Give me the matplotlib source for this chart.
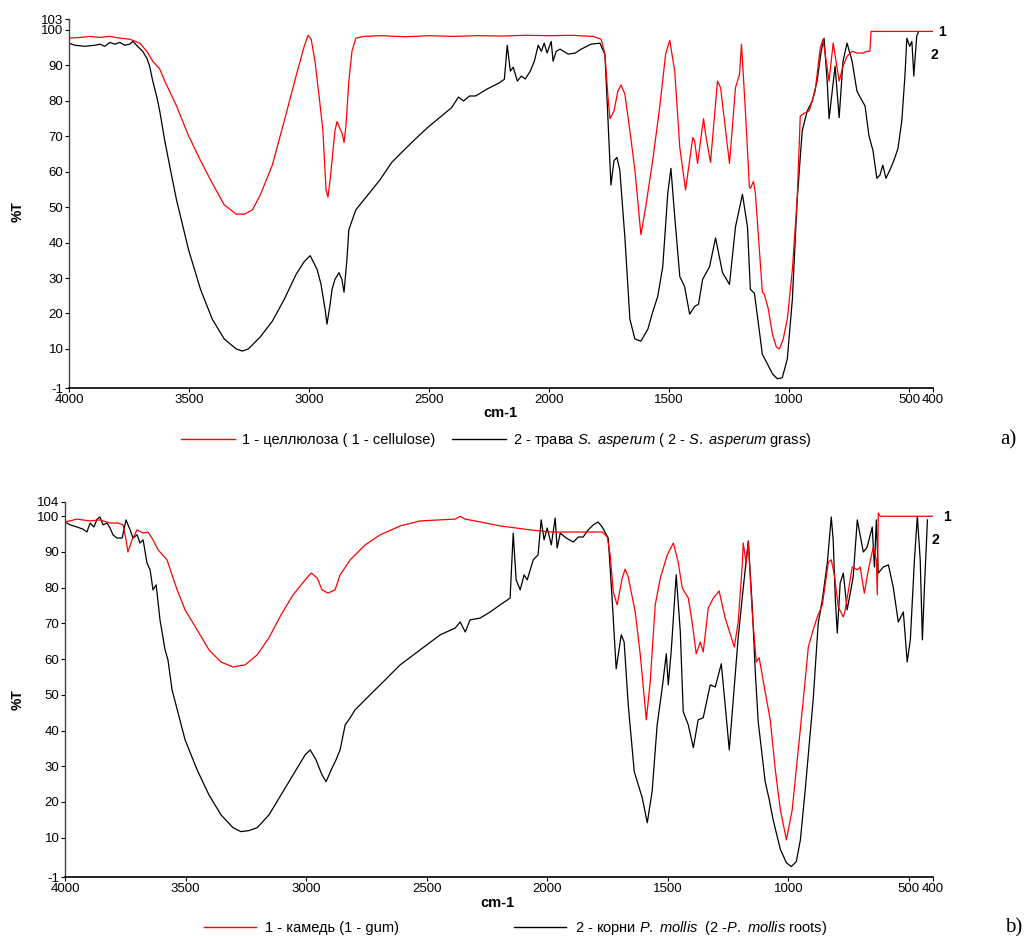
import matplotlib.pyplot as plt
from matplotlib.lines import Line2D

plt.rcParams['font.family'] = ['Liberation Sans', 'DejaVu Sans']
plt.rcParams['mathtext.fontset'] = 'custom'
plt.rcParams['mathtext.it'] = 'Liberation Sans:italic'
plt.rcParams['mathtext.rm'] = 'Liberation Sans'
plt.rcParams['axes.unicode_minus'] = False

# a) cellulose (1) and S. asperum grass (2), wavenumber cm-1 / %T
cellulose_wn = [4000, 3954, 3913, 3871, 3830, 3788, 3747, 3705, 3676, 3651, 3622, 3601,
                3552, 3502, 3452, 3403, 3353, 3303, 3269, 3236, 3203, 3153, 3103, 3054,
                3020, 3004, 2991, 2975, 2958, 2942, 2929, 2921, 2912, 2904, 2892, 2883,
                2871, 2863, 2854, 2846, 2834, 2821, 2805, 2771, 2700, 2600, 2500, 2400,
                2300, 2200, 2100, 2000, 1900, 1850,
                1817, 1783, 1767, 1754, 1746, 1729, 1713, 1700, 1684, 1663, 1642, 1617,
                1597, 1568, 1539, 1514, 1497, 1476, 1455, 1431, 1401, 1393, 1381, 1356,
                1348, 1327, 1298, 1285, 1248, 1223, 1206, 1198, 1181, 1165, 1161, 1148,
                1140, 1111, 1103, 1086, 1069, 1053, 1040, 1024, 1007, 986, 966, 953,
                932, 916, 891, 870, 858, 845, 833, 816, 804, 791, 775, 758,
                737, 717, 692, 675, 663, 658, 400]
cellulose_t = [97.6, 97.8, 98.1, 97.8, 98.1, 97.6, 97.3, 96.2, 93.9, 91.1, 88.9, 85.5,
               78.5, 70.1, 63.1, 56.7, 50.6, 48.0, 48.0, 49.2, 53.4, 61.8, 74.3, 86.9,
               95.3, 98.4, 97.3, 91.1, 81.3, 71.5, 54.8, 52.8, 57.6, 63.1, 71.5, 74.1,
               72.1, 71.0, 68.2, 72.9, 85.5, 93.9, 97.6, 98.1, 98.3, 98.0, 98.3, 98.1,
               98.3, 98.2, 98.4, 98.3, 98.4, 98.2,
               98.1, 97.3, 93.1, 80.8, 74.9, 77.1, 82.7, 84.4, 81.9, 71.5, 60.4, 42.2,
               50.0, 63.1, 78.0, 93.1, 97.0, 88.3, 66.8, 54.8, 69.6, 68.5, 62.3, 74.9,
               70.7, 62.6, 85.5, 83.6, 62.3, 83.6, 87.5, 95.9, 76.3, 55.6, 55.3, 57.2,
               53.9, 26.0, 25.5, 21.2, 14.2, 10.6, 10.0, 12.8, 18.4, 32.4, 52.0, 75.7,
               76.6, 77.1, 82.7, 94.8, 97.3, 91.1, 85.5, 96.2, 91.1, 85.5, 89.7, 92.5,
               93.9, 93.4, 93.4, 93.9, 93.9, 99.5, 99.5]

grass_wn = [4000, 3975, 3934, 3892, 3871, 3851, 3830, 3809, 3788, 3768, 3747, 3734,
            3714, 3693, 3676, 3664, 3651, 3635, 3622, 3601, 3577, 3552, 3502, 3452,
            3403, 3353, 3303, 3278, 3253, 3203, 3153, 3103, 3054, 3020, 2995, 2966,
            2950, 2933, 2925, 2912, 2904, 2892, 2875, 2863, 2854, 2842, 2834, 2805,
            2755, 2705, 2655, 2605, 2555, 2506, 2456, 2406, 2377, 2356, 2331, 2306,
            2257, 2207, 2186, 2174, 2161, 2149, 2132, 2115, 2099, 2078, 2061, 2045,
            2032, 2020, 2008, 1991, 1983, 1970, 1954, 1920, 1891, 1866, 1825,
            1788, 1767, 1754, 1742, 1729, 1717, 1705, 1684, 1663, 1642, 1617, 1588,
            1568, 1547, 1526, 1505, 1492, 1476, 1455, 1435, 1414, 1393, 1377, 1360,
            1331, 1306, 1277, 1248, 1223, 1194, 1173, 1161, 1144, 1111, 1090, 1069,
            1049, 1028, 1007, 986, 966, 945,
            924, 903, 883, 866, 854, 841, 833, 820, 808, 791, 775, 758,
            737, 717, 700, 683, 667, 650, 634, 621, 609, 596, 580, 563,
            546, 530, 517, 509, 497, 488, 480, 468, 460]
grass_t = [96.2, 95.6, 95.3, 95.6, 95.9, 95.3, 96.4, 95.9, 96.4, 95.6, 95.9, 96.7,
           95.3, 93.9, 92.0, 89.7, 85.5, 81.3, 77.1, 68.7, 60.4, 52.0, 38.0, 26.8,
           18.4, 12.8, 10.0, 9.4, 10.0, 13.4, 17.8, 24.0, 31.0, 34.6, 36.3, 32.4,
           28.2, 21.2, 17.0, 22.6, 26.8, 29.6, 31.5, 29.6, 26.0, 35.2, 43.6, 49.2,
           53.4, 57.6, 62.6, 66.0, 69.3, 72.4, 75.2, 78.0, 81.0, 79.9, 81.3, 81.3,
           83.3, 85.0, 86.0, 95.6, 88.3, 89.4, 85.5, 86.9, 86.1, 88.3, 91.1, 95.6,
           93.9, 96.2, 93.4, 96.7, 91.1, 93.9, 94.5, 93.1, 93.4, 94.5, 95.9,
           96.2, 93.0, 74.3, 56.2, 63.1, 64.0, 60.4, 41.6, 18.4, 12.8, 12.2, 15.6,
           20.4, 24.8, 33.2, 53.9, 60.9, 47.2, 30.4, 27.6, 19.8, 22.0, 22.6, 29.6,
           33.2, 41.3, 31.5, 28.2, 44.4, 53.6, 44.4, 26.8, 25.7, 8.5, 5.8, 3.0,
           1.6, 1.9, 7.2, 24.0, 52.0, 71.5,
           77.1, 79.9, 85.5, 93.9, 97.6, 85.5, 74.9, 82.7, 89.7, 75.2, 91.1, 96.2,
           91.1, 82.7, 80.5, 78.5, 70.1, 65.9, 58.1, 59.0, 61.8, 58.1, 60.4, 63.1,
           66.5, 74.3, 86.9, 97.6, 95.3, 96.7, 86.9, 98.1, 99.5]

# b) gum (1) and P. mollis roots (2)
gum_wn = [4000, 3950, 3896, 3855, 3813, 3780, 3759, 3747, 3739, 3722, 3701, 3676,
          3656, 3635, 3614, 3577, 3535, 3502, 3452, 3403, 3353, 3303, 3253, 3203,
          3154, 3104, 3054, 3004, 2979, 2954, 2934, 2909, 2880, 2859, 2817, 2755,
          2693, 2610, 2527, 2444, 2382, 2361, 2340, 2299, 2195, 2071, 1988, 1863,
          1801, 1772, 1751, 1739, 1726, 1710, 1689, 1677, 1664, 1635, 1614, 1589,
          1573, 1552, 1531, 1502, 1477, 1457, 1440, 1415, 1399, 1382, 1365, 1353,
          1332, 1311, 1287, 1262, 1224, 1208, 1191, 1187, 1175, 1166, 1150, 1133,
          1121, 1096, 1075, 1054, 1033, 1008, 984, 963, 938, 917, 897, 880,
          859, 834, 822, 809, 793, 772, 764, 735, 714, 702, 685, 668,
          648, 635, 631, 627, 619, 400]
gum_t = [98.4, 99.2, 98.7, 99.0, 98.1, 98.1, 97.6, 93.4, 90.0, 93.4, 96.2, 95.3,
         95.6, 93.4, 90.6, 87.8, 79.4, 73.8, 68.2, 62.6, 59.2, 57.8, 58.4, 61.2,
         66.0, 72.4, 78.0, 82.2, 84.1, 82.7, 79.4, 78.5, 79.4, 83.6, 87.8, 92.0,
         94.8, 97.3, 98.7, 99.0, 99.2, 100.0, 99.2, 98.7, 97.3, 96.2, 95.6, 95.6,
         95.6, 95.6, 94.2, 89.2, 78.8, 75.2, 82.7, 85.2, 83.0, 73.2, 61.2, 43.0,
         53.6, 75.2, 82.7, 89.2, 92.5, 87.2, 79.9, 77.1, 70.4, 61.5, 64.8, 62.0,
         74.3, 77.1, 79.1, 71.5, 63.4, 70.4, 86.4, 92.5, 86.9, 92.8, 73.2, 59.2,
         60.4, 50.8, 43.0, 29.0, 17.8, 9.4, 17.8, 31.8, 48.6, 63.4, 68.2, 71.8,
         75.2, 87.2, 87.8, 83.6, 74.6, 71.8, 73.8, 85.8, 85.0, 85.8, 78.5, 85.0,
         91.4, 87.8, 78.0, 100.9, 100.0, 100.0]

roots_wn = [4000, 3979, 3950, 3925, 3909, 3896, 3880, 3867, 3855, 3842, 3826, 3813,
            3801, 3784, 3763, 3747, 3730, 3718, 3701, 3689, 3676, 3660, 3647, 3635,
            3622, 3606, 3585, 3573, 3556, 3502, 3452, 3403, 3353, 3303, 3270, 3237,
            3203, 3154, 3104, 3054, 3004, 2983, 2959, 2934, 2917, 2896, 2876, 2859,
            2838, 2817, 2797, 2735, 2672, 2610, 2527, 2444, 2382, 2361, 2340, 2320,
            2278, 2237, 2195, 2154, 2141, 2129, 2112, 2096, 2083, 2058, 2038, 2025,
            2013, 2000, 1983, 1967, 1959, 1946, 1921, 1892, 1871, 1851, 1830, 1809,
            1789, 1772, 1747, 1731, 1714, 1693, 1681, 1664, 1639, 1606, 1585, 1565,
            1544, 1523, 1506, 1498, 1486, 1465, 1448, 1436, 1415, 1394, 1374, 1353,
            1324, 1303, 1278, 1262, 1245, 1228, 1208, 1187, 1166, 1158, 1150, 1137,
            1125, 1096, 1079, 1063, 1033, 1008, 988, 967, 950, 930, 897, 876,
            859, 838, 822, 814, 805, 797, 785, 772, 756, 731, 714, 689,
            673, 652, 643, 635, 627, 606, 585, 565, 544, 523, 507, 494,
            477, 465, 453, 444, 436, 423]
roots_t = [98.4, 97.6, 97.0, 96.4, 95.6, 98.1, 97.0, 99.2, 99.8, 97.6, 98.1, 96.7,
           94.8, 93.9, 93.9, 99.0, 96.2, 93.9, 94.8, 92.5, 93.4, 86.9, 85.0, 79.4,
           80.8, 71.0, 62.6, 59.8, 51.4, 37.4, 29.0, 22.0, 16.4, 12.8, 11.7, 12.0,
           12.8, 16.4, 22.0, 27.6, 33.2, 34.6, 31.8, 27.6, 25.7, 29.0, 31.8, 34.6,
           41.6, 43.6, 45.8, 50.0, 54.2, 58.4, 62.6, 66.8, 68.7, 70.4, 67.6, 71.0,
           71.5, 73.2, 75.2, 77.1, 95.3, 82.2, 79.4, 83.6, 82.2, 87.8, 89.2, 99.0,
           93.4, 96.7, 92.0, 99.5, 91.1, 95.3, 93.9, 92.8, 94.2, 94.2, 96.2, 97.6,
           98.4, 97.0, 93.9, 77.1, 57.3, 66.8, 64.8, 47.2, 28.5, 21.2, 14.2, 22.9,
           41.6, 52.0, 61.5, 52.8, 62.0, 83.6, 67.6, 45.3, 41.6, 35.2, 43.0, 43.6,
           52.8, 52.2, 58.7, 47.2, 34.6, 49.2, 66.0, 79.9, 93.1, 84.4, 75.2, 56.4,
           42.5, 25.7, 20.6, 15.0, 6.7, 3.0, 1.9, 3.3, 9.4, 23.4, 48.6, 70.1,
           76.6, 87.2, 99.8, 93.4, 76.6, 67.3, 81.3, 84.1, 73.8, 83.0, 99.0, 90.0,
           91.4, 97.0, 85.8, 99.0, 84.1, 85.8, 86.4, 80.2, 70.4, 73.2, 59.2, 65.4,
           87.8, 100.0, 87.8, 65.4, 79.4, 99.0]

x_ticks = [4000, 3500, 3000, 2500, 2000, 1500, 1000, 500, 400]
y_ticks_a = [-1, 10, 20, 30, 40, 50, 60, 70, 80, 90, 100, 103]
y_ticks_b = [-1, 10, 20, 30, 40, 50, 60, 70, 80, 90, 100, 104]

W, H = 1027, 936
fig = plt.figure(figsize=(W / 100, H / 100), dpi=100)


def draw_panel(rect, wn1, t1, wn2, t2, yticks):
    ax = fig.add_axes(rect)
    ax.plot(wn2, t2, color='black', lw=0.9)
    ax.plot(wn1, t1, color='#ff0000', lw=0.9)
    ax.set_xlim(4000, 400)
    ax.set_ylim(yticks[0], yticks[-1])
    ax.set_xticks(x_ticks)
    ax.set_yticks(yticks)
    ax.tick_params(direction='out', length=3, width=0.8, labelsize=9.5, pad=1)
    for side in ['top', 'right']:
        ax.spines[side].set_visible(False)
    ax.spines['left'].set_color('#444444')
    ax.spines['left'].set_linewidth(1.0)
    ax.spines['bottom'].set_linewidth(1.2)
    ax.patch.set_alpha(0)
    return ax


ax_a = draw_panel([69 / W, 1 - 388 / H, 864 / W, 369 / H],
                  cellulose_wn, cellulose_t, grass_wn, grass_t, y_ticks_a)
ax_b = draw_panel([65 / W, 1 - 877 / H, 868 / W, 375 / H],
                  gum_wn, gum_t, roots_wn, roots_t, y_ticks_b)

# axis titles
fig.text(18 / W, 1 - 212 / H, '%T', rotation=90, fontsize=10, fontweight='bold', ha='center', va='center')
fig.text(18 / W, 1 - 700 / H, '%T', rotation=90, fontsize=10, fontweight='bold', ha='center', va='center')
fig.text(500 / W, 1 - 413 / H, 'cm-1', fontsize=10.5, fontweight='bold', ha='center', va='center')
fig.text(497 / W, 1 - 903 / H, 'cm-1', fontsize=10.5, fontweight='bold', ha='center', va='center')

# curve numbers at the right end
fig.text(942 / W, 1 - 32 / H, '1', fontsize=10, fontweight='bold', ha='center', va='center')
fig.text(934 / W, 1 - 55 / H, '2', fontsize=10, fontweight='bold', ha='center', va='center')
fig.text(947 / W, 1 - 517 / H, '1', fontsize=10, fontweight='bold', ha='center', va='center')
fig.text(935 / W, 1 - 540 / H, '2', fontsize=10, fontweight='bold', ha='center', va='center')

# legends
handles = [Line2D([0], [0], color='#ff0000', lw=1), Line2D([0], [0], color='black', lw=1)]
fig.legend(handles, ['1 - целлюлоза ( 1 - cellulose)',
                     '2 - трава $\\mathit{S.}$ $\\mathit{asperum}$ ( 2 - $\\mathit{S.}$ $\\mathit{asperum}$ grass)'],
           loc='center left', bbox_to_anchor=(181 / W, 1 - 440 / H), ncol=2, frameon=False,
           fontsize=10.5, handlelength=3.7, handletextpad=0.45, columnspacing=1.2,
           borderpad=0, borderaxespad=0)
fig.legend(handles, ['1 - камедь (1 - gum)',
                     '2 - корни $\\mathit{P.}$ $\\mathit{mollis}$  (2 -$\\mathit{P.}$ $\\mathit{mollis}$ roots)'],
           loc='center left', bbox_to_anchor=(204 / W, 1 - 928 / H), ncol=2, frameon=False,
           fontsize=10.5, handlelength=3.57, handletextpad=0.6, columnspacing=7.9,
           borderpad=0, borderaxespad=0)

fig.text(1000 / W, 1 - 440 / H, 'a)', fontsize=15, family='Liberation Serif', ha='left', va='center')
fig.text(1005 / W, 1 - 928 / H, 'b)', fontsize=15, family='Liberation Serif', ha='left', va='center')

fig.savefig('out.png', dpi=100)
plt.close(fig)
